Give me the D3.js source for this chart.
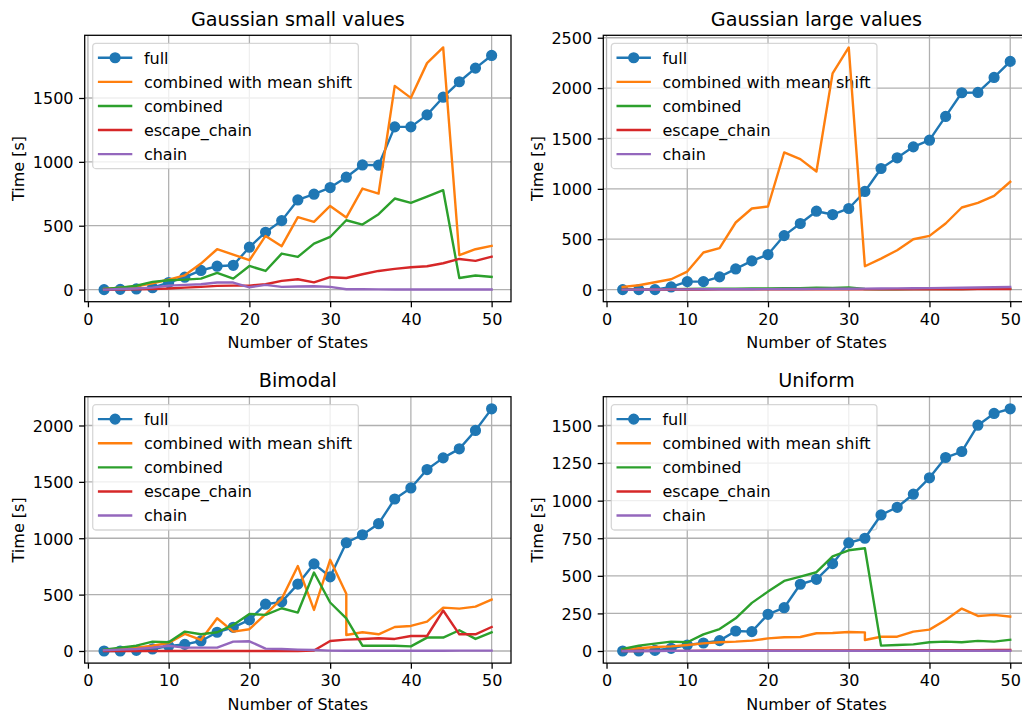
<!DOCTYPE html>
<html><head><meta charset="utf-8">
<script src="https://cdn.jsdelivr.net/npm/d3@7"></script>
<style>
body{margin:0;background:#fff;}
svg{display:block;}
text{font-family:"DejaVu Sans",sans-serif;fill:#000;}
</style>
</head><body>
<svg id="chart" width="1022" height="715"></svg>
<script>
// ---------- data ----------
const states = [2,4,6,8,10,12,14,16,18,20,22,24,26,28,30,32,34,36,38,40,42,44,46,48,50];
const statesDup32 = [2,4,6,8,10,12,14,16,18,20,22,24,26,28,30,32,32,34,36,38,40,42,44,46,48,50];
const seriesNames = ["full","combined with mean shift","combined","escape_chain","chain"];
const seriesColors = ["#1f77b4","#ff7f0e","#2ca02c","#d62728","#9467bd"];
const panelTitles = ["Gaussian small values","Gaussian large values","Bimodal","Uniform"];
const xTicks = [0,10,20,30,40,50];

// Gaussian small values
const gsFull   = [0,2,5,15,55,97,150,183,190,332,449,540,702,747,799,880,976,974,1274,1274,1368,1506,1627,1734,1833];
const gsMean   = [5,15,25,50,78,112,204,316,274,230,420,340,567,530,655,564,791,752,1595,1501,1773,1896,269,316,342];
const gsComb   = [5,15,30,60,73,78,86,130,86,185,146,282,256,360,412,543,509,590,713,679,728,778,91,110,99];
const gsEscape = [0,0,3,5,8,15,21,29,31,31,42,68,81,57,97,91,120,146,162,175,183,206,240,225,258];
const gsChain  = [0,5,8,15,31,37,42,55,55,18,37,21,24,26,21,3,3,2,1,1,1,1,1,1,1];
const gsYTicks = [0,500,1000,1500];

// Gaussian large values
const glFull   = [0,0,0,26,79,79,126,205,285,348,536,656,778,745,805,974,1202,1308,1417,1483,1719,1954,1957,2106,2265];
const glMean   = [26,43,73,103,179,368,411,666,805,825,1361,1295,1172,2146,2404,232,308,391,500,533,656,815,861,930,1070];
const glComb   = [2,3,4,5,6,8,9,10,11,12,14,15,18,17,22,6,4,4,5,5,6,6,7,7,8];
const glEscape = [0,0,1,1,1,1,2,2,2,2,2,3,3,3,3,3,3,3,4,4,4,4,5,5,5];
const glChain  = [0,1,1,2,2,3,3,4,4,5,6,6,7,8,9,10,11,12,13,15,17,19,21,23,26];
const glYTicks = [0,500,1000,1500,2000,2500];

// Bimodal
const bmFull   = [0,0,6,18,44,59,89,166,210,276,415,436,593,773,658,960,1031,1129,1348,1446,1609,1713,1793,1956,2148];
const bmMean   = [6,15,30,47,71,151,98,290,172,193,326,462,753,364,809,507,142,166,148,213,222,261,385,376,394,456];
const bmComb   = [12,30,47,83,77,172,148,166,231,329,320,379,341,696,430,290,47,47,47,41,119,119,184,107,166];
const bmEscape = [0,0,0,0,0,0,0,0,0,0,0,0,0,5,89,101,107,113,107,133,133,359,148,148,213];
const bmChain  = [6,12,18,30,47,30,30,30,83,86,21,18,12,9,3,2,2,2,2,2,2,2,3,3,3];
const bmYTicks = [0,500,1000,1500,2000];

// Uniform
const unFull   = [0,0,4,18,40,53,69,133,129,244,288,444,477,581,719,750,905,956,1043,1152,1287,1327,1502,1580,1611];
const unMean   = [9,18,27,31,40,51,58,62,69,84,91,93,118,120,126,124,73,95,95,129,142,206,282,233,240,229];
const unComb   = [13,36,49,62,58,111,146,217,320,395,466,495,524,630,670,683,36,40,44,58,62,58,67,62,75];
const unEscape = [0,0,1,1,1,2,2,2,3,3,3,3,4,4,4,4,5,5,5,5,6,6,6,7,7];
const unChain  = [0,0,0,1,1,1,1,1,1,1,1,1,1,1,1,1,2,2,2,2,2,2,2,2,2];
const unYTicks = [0,250,500,750,1000,1250,1500];

const panels = [
  {title:panelTitles[0], yTicks:gsYTicks, series:[[states,gsFull],[states,gsMean],[states,gsComb],[states,gsEscape],[states,gsChain]]},
  {title:panelTitles[1], yTicks:glYTicks, series:[[states,glFull],[states,glMean],[states,glComb],[states,glEscape],[states,glChain]]},
  {title:panelTitles[2], yTicks:bmYTicks, series:[[states,bmFull],[statesDup32,bmMean],[states,bmComb],[states,bmEscape],[states,bmChain]]},
  {title:panelTitles[3], yTicks:unYTicks, series:[[states,unFull],[statesDup32,unMean],[states,unComb],[states,unEscape],[states,unChain]]}
];

// ---------- layout ----------
const S = 1.6; // px per pt
const fs = 10*S, titleFs = 12*S;
const lw = 1.5*S;
const boxes = [
  {left:84.7, top:35.3}, {left:603.3, top:35.3},
  {left:84.7, top:396.7}, {left:603.3, top:396.7}
];
const W = 426.3, H = 266.4;
const svg = d3.select("#chart");

panels.forEach((p, pi) => {
  const b = boxes[pi];
  const g = svg.append("g").attr("transform", `translate(${b.left},${b.top})`);
  const clipId = "clip" + pi;
  svg.append("defs").append("clipPath").attr("id", clipId)
    .append("rect").attr("x", b.left).attr("y", b.top).attr("width", W).attr("height", H);

  const allX = d3.merge(p.series.map(s => s[0]));
  const allY = d3.merge(p.series.map(s => s[1]));
  const [xmin, xmax] = d3.extent(allX);
  const [ymin, ymax] = d3.extent(allY);
  const xm = (xmax - xmin) * 0.05, ym = (ymax - ymin) * 0.05;
  const x = d3.scaleLinear().domain([xmin - xm, xmax + xm]).range([0, W]);
  const y = d3.scaleLinear().domain([ymin - ym, ymax + ym]).range([H, 0]);

  // grid
  const grid = g.append("g");
  xTicks.forEach(t => grid.append("line").attr("x1", x(t)).attr("x2", x(t)).attr("y1", 0).attr("y2", H)
    .attr("stroke", "#b0b0b0").attr("stroke-width", 0.8*S));
  p.yTicks.forEach(t => grid.append("line").attr("x1", 0).attr("x2", W).attr("y1", y(t)).attr("y2", y(t))
    .attr("stroke", "#b0b0b0").attr("stroke-width", 0.8*S));

  // series
  const plot = svg.append("g").attr("clip-path", `url(#${clipId})`)
    .append("g").attr("transform", `translate(${b.left},${b.top})`);
  const line = d3.line().x(d => x(d[0])).y(d => y(d[1]));
  p.series.forEach((s, si) => {
    const pts = s[0].map((xv, i) => [xv, s[1][i]]);
    plot.append("path").datum(pts).attr("d", line).attr("fill", "none")
      .attr("stroke", seriesColors[si]).attr("stroke-width", lw)
      .attr("stroke-linejoin", "round").attr("stroke-linecap", "square");
    if (si === 0) {
      plot.selectAll(null).data(pts).enter().append("circle")
        .attr("cx", d => x(d[0])).attr("cy", d => y(d[1])).attr("r", 3*S)
        .attr("fill", seriesColors[0]).attr("stroke", seriesColors[0]).attr("stroke-width", 1*S);
    }
  });

  // axes
  const xAxis = d3.axisBottom(x).tickValues(xTicks).tickSize(3.5*S).tickPadding(3.5*S).tickFormat(d3.format("d"));
  const yAxis = d3.axisLeft(y).tickValues(p.yTicks).tickSize(3.5*S).tickPadding(3.5*S).tickFormat(d3.format("d"));
  const gx = g.append("g").attr("transform", `translate(0,${H})`).call(xAxis);
  const gy = g.append("g").call(yAxis);
  [gx, gy].forEach(a => {
    a.select(".domain").remove();
    a.selectAll(".tick line").attr("stroke", "#000").attr("stroke-width", 0.8*S);
    a.selectAll(".tick text").style("font-family", "DejaVu Sans").style("font-size", fs + "px").attr("fill", "#000");
  });
  gx.selectAll(".tick text").attr("dy", "0.76em");
  gy.selectAll(".tick text").attr("dy", "0.36em");

  // spines
  g.append("rect").attr("x", 0).attr("y", 0).attr("width", W).attr("height", H)
    .attr("fill", "none").attr("stroke", "#000").attr("stroke-width", 0.8*S);

  // title and labels
  g.append("text").attr("x", W/2).attr("y", -9.6).attr("text-anchor", "middle")
    .style("font-size", titleFs + "px").text(p.title);
  g.append("text").attr("x", W/2).attr("y", H + 46.5).attr("text-anchor", "middle")
    .style("font-size", fs + "px").text("Number of States");
  g.append("text").attr("transform", `translate(-66,${H/2}) rotate(-90)`).attr("dy", "0.36em")
    .attr("text-anchor", "middle").style("font-size", fs + "px").text("Time [s]");

  // legend
  const lg = g.append("g").attr("transform", `translate(${0.5*fs},${0.5*fs})`);
  const bg = lg.append("rect");
  const pad = 0.4*fs, handleLen = 2*fs, textPad = 0.8*fs, rowH = 16.1, rowGap = 0.5*fs;
  let maxW = 0;
  seriesNames.forEach((name, si) => {
    const cy = pad + rowH/2 + si*(rowH + rowGap);
    const x0 = pad, x1 = pad + handleLen;
    lg.append("line").attr("x1", x0).attr("x2", x1).attr("y1", cy).attr("y2", cy)
      .attr("stroke", seriesColors[si]).attr("stroke-width", lw).attr("stroke-linecap", "square");
    if (si === 0) lg.append("circle").attr("cx", (x0 + x1)/2).attr("cy", cy).attr("r", 3*S)
      .attr("fill", seriesColors[0]).attr("stroke", seriesColors[0]).attr("stroke-width", 1*S);
    const t = lg.append("text").attr("x", x1 + textPad).attr("y", cy).attr("dy", "0.36em")
      .style("font-size", fs + "px").text(name);
    maxW = Math.max(maxW, t.node().getComputedTextLength());
  });
  const lgW = pad + handleLen + textPad + maxW + pad;
  const lgH = 2*pad + 5*rowH + 4*rowGap;
  bg.attr("x", 0).attr("y", 0).attr("width", lgW).attr("height", lgH).attr("rx", 0.2*fs)
    .attr("fill", "#fff").attr("fill-opacity", 0.8).attr("stroke", "#cccccc").attr("stroke-opacity", 0.8).attr("stroke-width", 0.8*S);
});
</script>
</body></html>
